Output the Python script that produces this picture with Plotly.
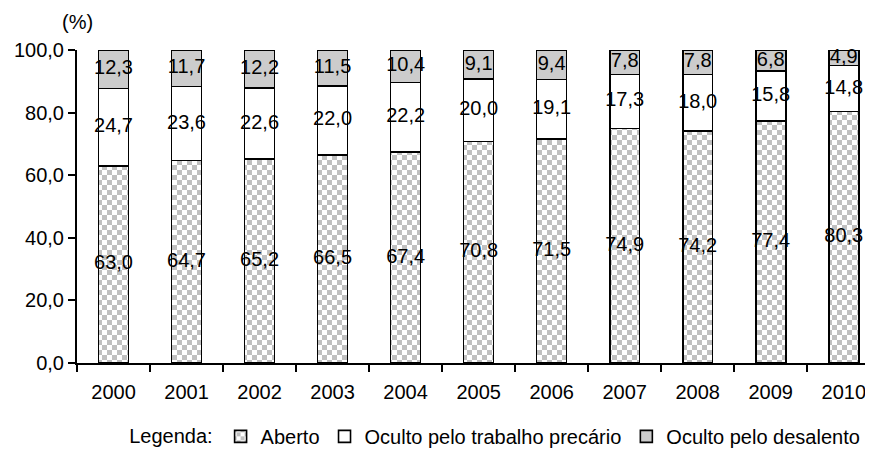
import plotly.graph_objects as go

anos = ["2000", "2001", "2002", "2003", "2004", "2005", "2006", "2007", "2008", "2009", "2010"]
aberto = [63.0, 64.7, 65.2, 66.5, 67.4, 70.8, 71.5, 74.9, 74.2, 77.4, 80.3]
precario = [24.7, 23.6, 22.6, 22.0, 22.2, 20.0, 19.1, 17.3, 18.0, 15.8, 14.8]
desalento = [12.3, 11.7, 12.2, 11.5, 10.4, 9.1, 9.4, 7.8, 7.8, 6.8, 4.9]
y_ticks = [0, 20, 40, 60, 80, 100]

FONT = "Liberation Sans, Arial, sans-serif"
FS = 20

def checker_pattern():
    base = dict(fgcolor="#c0c0c0", bgcolor="white", size=10, solidity=0.5, fillmode="replace")
    try:
        go.bar.marker.Pattern(path="M0,0H5V5H0ZM5,5H10V10H5Z", **base)
        return dict(path="M0,0H5V5H0ZM5,5H10V10H5Z", **base)
    except Exception:
        return dict(shape=".", **dict(base, size=7, solidity=0.45))

line = dict(color="black", width=1.6)

fig = go.Figure()
series = [
    ("Aberto", aberto, dict(color="white", pattern=checker_pattern(), line=line)),
    ("Oculto pelo trabalho precário", precario, dict(color="white", line=line)),
    ("Oculto pelo desalento", desalento, dict(color="#cccccc", line=line)),
]
for name, vals, marker in series:
    fig.add_trace(go.Bar(name=name, x=anos, y=vals, marker=marker, hoverinfo="skip"))

# value labels at the middle of each stacked segment
base = [0.0] * len(anos)
for name, vals, _ in series:
    mids = [b + v / 2 for b, v in zip(base, vals)]
    fig.add_trace(go.Scatter(
        x=anos, y=mids, mode="text",
        text=[f"{v:.1f}".replace(".", ",") for v in vals],
        textposition="middle center",
        textfont=dict(family=FONT, size=FS, color="black"),
        showlegend=False, cliponaxis=False, hoverinfo="skip",
    ))
    base = [b + v for b, v in zip(base, vals)]

fig.update_layout(
    barmode="stack",
    bargap=0.59,
    width=873, height=449,
    margin=dict(l=69, r=0, t=42, b=94, autoexpand=False),
    plot_bgcolor="white", paper_bgcolor="white",
    separators=",.",
    font=dict(family=FONT, size=FS, color="black"),
    showlegend=True,
    legend=dict(
        orientation="h",
        xref="container", yref="container",
        x=0.1365, xanchor="left",
        y=0.046, yanchor="middle",
        title=dict(text="Legenda:", side="left", font=dict(size=FS)),
        font=dict(size=FS),
        itemwidth=30,
        traceorder="normal",
        tracegroupgap=0,
    ),
    annotations=[dict(text="(%)", xref="paper", yref="paper", x=0.0, y=1.089,
                      xanchor="center", yanchor="middle", showarrow=False,
                      font=dict(size=FS))],
)
fig.update_xaxes(
    type="category",
    range=[-0.5, 10.51],
    showline=True, linecolor="black", linewidth=2,
    ticks="outside", ticklen=7, tickwidth=2, tickcolor="black",
    tickson="boundaries",
    ticklabelstandoff=10,
    showgrid=False,
)
fig.update_yaxes(
    range=[0, 100],
    tickvals=y_ticks,
    tickformat=".1f",
    showline=True, linecolor="black", linewidth=2,
    ticks="outside", ticklen=7, tickwidth=2, tickcolor="black",
    showgrid=False, zeroline=False,
)

fig.write_html("out.html")
